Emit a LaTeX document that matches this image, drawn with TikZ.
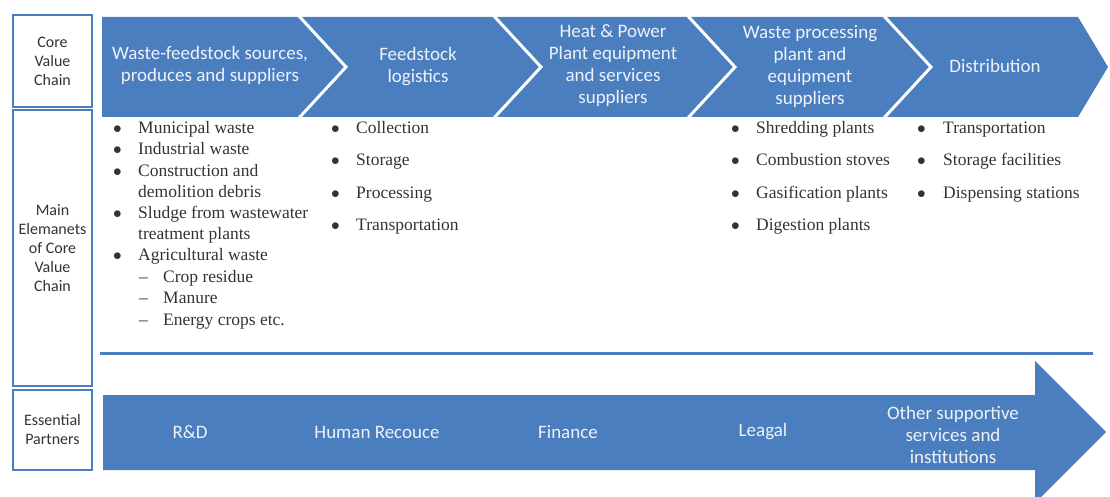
\documentclass[tikz,border=0pt]{standalone}
\usepackage{fontspec}
\setmainfont{Liberation Serif}
\newfontfamily\carlito{Carlito}
\definecolor{chainblue}{HTML}{4A7EBE}
\definecolor{paleblue}{HTML}{EEF2F9}
\definecolor{itemgrey}{HTML}{333333}
\newcommand{\itemdot}{$\bullet$}

\begin{document}
\begin{tikzpicture}[x=1pt, y=-1pt,
  side_box/.style={draw=chainblue, line width=2pt, minimum width=79pt, inner sep=0pt, align=center,
    text=itemgrey, font=\carlito\fontsize{16}{19}\selectfont},
  chev_text/.style={text=paleblue, align=center, font=\carlito\fontsize{19}{22}\selectfont},
  item_text/.style={anchor=base west, inner sep=0pt, text=itemgrey, font=\fontsize{17.5}{19}\selectfont},
  sep_line/.style={draw=white, line width=3pt, line join=miter}]

\useasboundingbox (0,0) rectangle (1110,497);
\clip (0,0) rectangle (1110,497);

% row headers
\node[side_box, minimum height=92pt] (core) at (52.5,61) {Core\\Value\\Chain};
\node[side_box, minimum height=276pt] (main) at (52.5,248) {Main\\Elemanets\\of Core\\Value\\Chain};
\node[side_box, minimum height=80pt] (partners) at (52.5,430) {Essential\\Partners};

% value chain chevrons
\fill[chainblue] (102,17) -- (1078,17) -- (1108,67) -- (1078,117) -- (102,117) -- cycle;
\foreach \a in {298,493,687,883}
  \draw[sep_line] (\a,15) -- (\a+48,67) -- (\a,119);

\node[chev_text] (c1) at (210,65) {Waste-feedstock sources,\\produces and suppliers};
\node[chev_text] (c2) at (418,67) {Feedstock\\logistics};
\node[chev_text] (c3) at (613,66) {Heat \& Power\\Plant equipment\\and services\\suppliers};
\node[chev_text] (c4) at (810,66) {Waste processing\\plant and\\equipment\\suppliers};
\node[chev_text] (c5) at (995,66) {Distribution};

% sources
\node[item_text] (s1) at (113,134) {\makebox[25pt][l]{\itemdot}Municipal waste};
\node[item_text] (s2) at (113,155) {\makebox[25pt][l]{\itemdot}Industrial waste};
\node[item_text] (s3) at (113,176) {\makebox[25pt][l]{\itemdot}Construction and};
\node[item_text] (s3b) at (138,197) {demolition debris};
\node[item_text] (s4) at (113,218) {\makebox[25pt][l]{\itemdot}Sludge from wastewater};
\node[item_text] (s4b) at (138,239) {treatment plants};
\node[item_text] (s5) at (113,260) {\makebox[25pt][l]{\itemdot}Agricultural waste};
\node[item_text] (s5a) at (139,282) {\makebox[24pt][l]{--}Crop residue};
\node[item_text] (s5b) at (139,303) {\makebox[24pt][l]{--}Manure};
\node[item_text] (s5c) at (139,325) {\makebox[24pt][l]{--}Energy crops etc.};

% logistics
\node[item_text] (l1) at (331,134) {\makebox[25pt][l]{\itemdot}Collection};
\node[item_text] (l2) at (331,166) {\makebox[25pt][l]{\itemdot}Storage};
\node[item_text] (l3) at (331,198) {\makebox[25pt][l]{\itemdot}Processing};
\node[item_text] (l4) at (331,230) {\makebox[25pt][l]{\itemdot}Transportation};

% processing plants
\node[item_text] (w1) at (731,134) {\makebox[25pt][l]{\itemdot}Shredding plants};
\node[item_text] (w2) at (731,166) {\makebox[25pt][l]{\itemdot}Combustion stoves};
\node[item_text] (w3) at (731,198) {\makebox[25pt][l]{\itemdot}Gasification plants};
\node[item_text] (w4) at (731,230) {\makebox[25pt][l]{\itemdot}Digestion plants};

% distribution
\node[item_text] (d1) at (917,134) {\makebox[26pt][l]{\itemdot}Transportation};
\node[item_text] (d2) at (917,166) {\makebox[26pt][l]{\itemdot}Storage facilities};
\node[item_text] (d3) at (917,198) {\makebox[26pt][l]{\itemdot}Dispensing stations};

% divider
\coordinate (div_l) at (100,353);
\coordinate (div_r) at (1093,353);
\draw[chainblue, line width=3pt] (div_l) -- (div_r);

% partners arrow
\fill[chainblue] (103,395) -- (1035,395) -- (1035,361) -- (1106,432) -- (1035,503)
  -- (1035,470) -- (103,470) -- cycle;

\node[chev_text] (p1) at (190,432) {R\&D};
\node[chev_text] (p2) at (377,432) {Human Recouce};
\node[chev_text] (p3) at (568,432) {Finance};
\node[chev_text] (p4) at (763,432) {Leagal};
\node[chev_text] (p5) at (953,435) {Other supportive\\services and\\institutions};

\end{tikzpicture}
\end{document}
